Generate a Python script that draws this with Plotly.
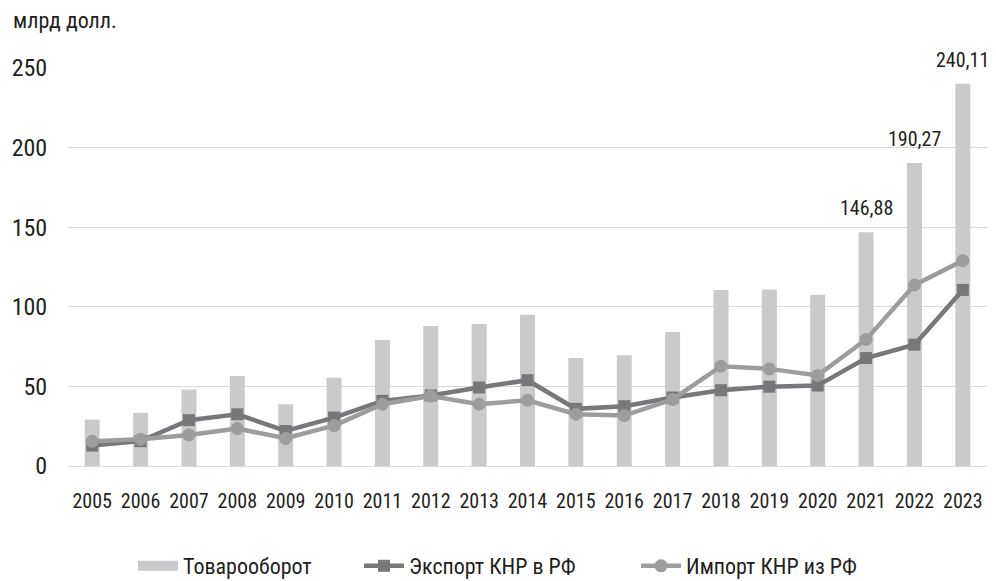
import plotly.graph_objects as go

years = [str(y) for y in range(2005, 2024)]
trade = [29.1, 33.4, 48.1, 56.6, 38.8, 55.4, 79.1, 88.0, 89.2, 95.0, 67.9, 69.5, 84.1,
         110.6, 110.8, 107.6, 146.88, 190.27, 240.11]
export_cn = [12.8, 15.6, 28.8, 32.5, 22.0, 30.4, 40.9, 44.3, 49.3, 53.9, 35.9, 37.6, 43.0,
             47.6, 49.8, 50.5, 67.8, 76.2, 110.6]
import_cn = [15.5, 16.8, 19.5, 23.5, 17.4, 25.4, 38.8, 43.9, 38.8, 41.3, 32.5, 31.7, 41.8,
             62.7, 61.0, 56.9, 79.5, 113.7, 129.0]
labeled_years = ["2021", "2022", "2023"]
labeled_values = [146.88, 190.27, 240.11]
y_ticks = [0, 50, 100, 150, 200, 250]

FONT = "Liberation Sans Narrow, Roboto Condensed, Arial Narrow, Roboto, sans-serif"
TXT = "#231f20"
BAR_C = "#c9cacc"
EXP_C = "#77787b"
IMP_C = "#9c9d9f"
LEG_FONT = dict(size=22, color=TXT, family=FONT)

fig = go.Figure()
fig.add_trace(go.Bar(x=years, y=trade, name="Товарооборот", showlegend=False,
                     marker=dict(color=BAR_C, line=dict(width=0))))
# legend-only entry giving the bar series a wide swatch like the reference
fig.add_trace(go.Scatter(x=[years[0]], y=[None], name="Товарооборот", mode="lines",
                         line=dict(color=BAR_C, width=10), hoverinfo="skip", legend="legend"))
fig.add_trace(go.Scatter(x=years, y=export_cn, name="Экспорт КНР в РФ", mode="lines+markers",
                         line=dict(color=EXP_C, width=4.5), legend="legend2",
                         marker=dict(symbol="square", size=12, color=EXP_C)))
fig.add_trace(go.Scatter(x=years, y=import_cn, name="Импорт КНР из РФ", mode="lines+markers",
                         line=dict(color=IMP_C, width=4.5), legend="legend3",
                         marker=dict(symbol="circle", size=13, color=IMP_C)))

for yr, v in zip(labeled_years, labeled_values):
    fig.add_annotation(x=years.index(yr), y=v, text=f"{v:.2f}".replace(".", ","), showarrow=False,
                       yanchor="bottom", yshift=10, font=dict(size=20, color=TXT, family=FONT))

fig.add_annotation(xref="paper", yref="paper", x=-0.062, y=1.12, xanchor="left", yanchor="middle",
                   text="млрд долл.", showarrow=False, font=dict(size=22, color=TXT, family=FONT))

def leg(xpx):
    return dict(orientation="h", xref="container", yref="container", x=xpx / 996, y=15 / 581,
                xanchor="left", yanchor="middle", itemwidth=40, font=LEG_FONT,
                bgcolor="rgba(0,0,0,0)", borderwidth=0)

fig.update_layout(
    width=996, height=581,
    margin=dict(l=68, r=9, t=68, b=115, autoexpand=False),
    plot_bgcolor="white", paper_bgcolor="white",
    font=dict(family=FONT, size=20, color=TXT),
    bargap=0.69,
    showlegend=True,
    legend=leg(133), legend2=leg(359), legend3=leg(636),
    xaxis=dict(type="category", categoryorder="array", categoryarray=years,
               range=[-0.5, len(years) - 0.5],
               showgrid=False, showline=False, zeroline=False,
               ticks="outside", ticklen=17, tickcolor="rgba(0,0,0,0)",
               tickfont=dict(size=20, color=TXT, family=FONT)),
    yaxis=dict(range=[0, 250], tickvals=y_ticks, showgrid=True, gridcolor="#d9d9d9",
               gridwidth=1, zeroline=True, zerolinecolor="#d9d9d9", zerolinewidth=1,
               showline=False, ticks="outside", ticklen=15, tickcolor="rgba(0,0,0,0)",
               tickfont=dict(size=24, color=TXT, family=FONT)),
)

fig.write_html("out.html", config={"displayModeBar": False},
               post_script="document.body.style.margin='0';document.body.style.overflow='hidden';")
